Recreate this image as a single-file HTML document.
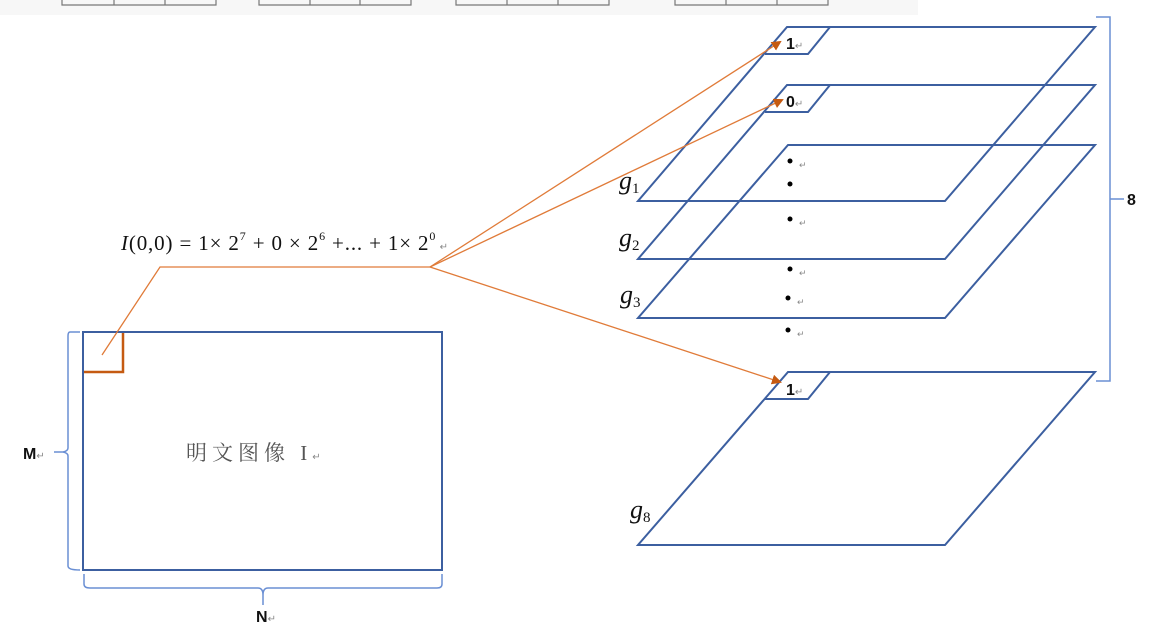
<!DOCTYPE html>
<html><head><meta charset="utf-8"><style>
html,body{margin:0;padding:0;background:#fff;width:1151px;height:642px;overflow:hidden}
</style></head><body>
<svg width="1151" height="642" viewBox="0 0 1151 642" xmlns="http://www.w3.org/2000/svg">
<defs>
<marker id="ah" markerWidth="10" markerHeight="10" refX="8" refY="5" orient="auto" markerUnits="userSpaceOnUse">
<path d="M0,0 L10,5 L0,10 z" fill="#c55a11"/>
</marker>
</defs>
<rect x="0" y="0" width="918" height="15" fill="#f7f7f7"/>
<g stroke="#777" stroke-width="1.2" fill="none">
<path d="M62,0 V5 H216 V0 M114,0 V5 M165,0 V5"/>
<path d="M259,0 V5 H411 V0 M310,0 V5 M360,0 V5"/>
<path d="M456,0 V5 H609 V0 M507,0 V5 M558,0 V5"/>
<path d="M675,0 V5 H828 V0 M726,0 V5 M777,0 V5"/>
</g>
<g stroke="#3c5fa0" stroke-width="2" fill="none">
<path d="M787,27 H1095 L945,201 H638 Z"/>
<path d="M787,27 H830 L808,54 H765"/>
<path d="M787,85 H1095 L945,259 H638 Z"/>
<path d="M787,85 H830 L808,112 H765"/>
<path d="M788,145 H1095 L945,318 H638 Z"/>
<path d="M788,372 H1095 L945,545 H638 Z"/>
<path d="M788,372 H830 L808,399 H765"/>
<rect x="83" y="332" width="359" height="238"/>
</g>
<g stroke="#6a8fd4" stroke-width="1.5" fill="none">
<path d="M1096,17 H1110 V381 H1096 M1110,199 H1124"/>
<path d="M80,332 H70 Q68,332 68,336 V448 Q68,451 63,452 H54 M63,452 Q68,453 68,456 V566 Q68,570 80,570"/>
<path d="M84,574 V584 Q84,588 90,588 H258 Q263,588 263,595 V605 M263,595 Q263,588 268,588 H437 Q442,588 442,584 V574"/>
</g>
<g stroke="#e07b39" stroke-width="1.3" fill="none">
<path d="M102,355 L160,267 H430"/>
<path d="M430,267 L780,42" marker-end="url(#ah)"/>
<path d="M430,267 L782,100" marker-end="url(#ah)"/>
<path d="M430,267 L780,382" marker-end="url(#ah)"/>
</g>
<path d="M84,372 H123 V333" stroke="#c55a11" stroke-width="2.5" fill="none"/>
<g fill="#000">
<circle cx="790" cy="161" r="2.5"/><circle cx="790" cy="184" r="2.5"/>
<circle cx="790" cy="219" r="2.5"/><circle cx="790" cy="269" r="2.5"/>
<circle cx="788" cy="298" r="2.5"/><circle cx="788" cy="330" r="2.5"/>
</g>
<g font-family="Liberation Sans, sans-serif" font-size="9" fill="#888">
<text x="799" y="168">↵</text><text x="799" y="226">↵</text><text x="799" y="276">↵</text>
<text x="797" y="305">↵</text><text x="797" y="337">↵</text>
</g>
<g font-family="Liberation Sans, sans-serif" font-weight="bold" font-size="16" fill="#111">
<text x="786" y="49">1<tspan font-weight="normal" font-size="10" fill="#888">↵</tspan></text>
<text x="786" y="107">0<tspan font-weight="normal" font-size="10" fill="#888">↵</tspan></text>
<text x="786" y="395">1<tspan font-weight="normal" font-size="10" fill="#888">↵</tspan></text>
<text x="1127" y="205">8</text>
<text x="23" y="459">M<tspan font-weight="normal" font-size="10" fill="#888">↵</tspan></text>
<text x="256" y="622">N<tspan font-weight="normal" font-size="10" fill="#888">↵</tspan></text>
</g>
<g font-family="Liberation Serif, serif" font-size="26" fill="#111">
<text x="619" y="189" font-style="italic">g<tspan font-size="15" font-style="normal" dy="4">1</tspan></text>
<text x="619" y="246" font-style="italic">g<tspan font-size="15" font-style="normal" dy="4">2</tspan></text>
<text x="620" y="303" font-style="italic">g<tspan font-size="15" font-style="normal" dy="4">3</tspan></text>
<text x="630" y="518" font-style="italic">g<tspan font-size="15" font-style="normal" dy="4">8</tspan></text>
</g>
<text x="121" y="250" textLength="327" lengthAdjust="spacing" font-family="Liberation Serif, serif" font-size="21" fill="#111"><tspan font-style="italic">I</tspan>(0,0) = 1× 2<tspan font-size="12" dy="-10">7</tspan><tspan dy="10"> + 0 × 2</tspan><tspan font-size="12" dy="-10">6</tspan><tspan dy="10"> +... + 1× 2</tspan><tspan font-size="12" dy="-10">0</tspan><tspan font-size="10" fill="#888" dy="10"> ↵</tspan></text>
<text x="186" y="460" font-family="Liberation Serif, 'Noto Serif CJK SC', serif" font-size="21" fill="#555" letter-spacing="5">明文图像 I<tspan font-size="10" fill="#888" letter-spacing="0">↵</tspan></text>
</svg>
</body></html>
